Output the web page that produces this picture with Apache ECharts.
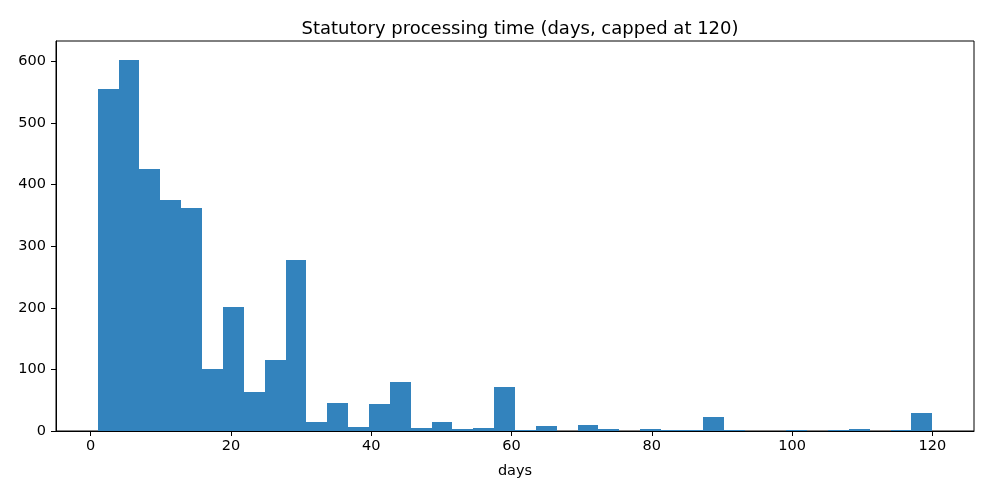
<!DOCTYPE html>
<html><head><meta charset="utf-8">
<script src="https://cdn.jsdelivr.net/npm/echarts@6/dist/echarts.min.js"></script>
<style>html,body{margin:0;padding:0;background:#fff}#c{width:990px;height:495px}</style>
</head><body><div id="c"></div>
<script>
const titleText = 'Statutory processing time (days, capped at 120)';
const xLabel = 'days';
const binStart = 1;
const binEnd = 120;
const counts = [556, 603, 426, 375, 362, 100, 202, 63, 115, 278,
                14, 45, 6, 44, 80, 5, 14, 3, 5, 71,
                2, 8, 0, 10, 3, 0, 3, 1, 1, 23,
                1, 0, 0, 1, 0, 1, 3, 0, 1, 30];
const xTicks = [0, 20, 40, 60, 80, 100, 120];
const yTicks = [0, 100, 200, 300, 400, 500, 600];

const nBins = counts.length;
const w = (binEnd - binStart) / nBins;
const data = counts.map((c, i) => [binStart + i * w, binStart + (i + 1) * w, c]);
const xPad = (binEnd - binStart) * 0.05;
const yMax = Math.max(...counts) * 1.05;

const chart = echarts.init(document.getElementById('c'), null, {renderer: 'canvas'});
const font = 'DejaVu Sans';
chart.setOption({
  animation: false,
  backgroundColor: '#fff',
  title: {text: titleText, left: 515, top: 15, textAlign: 'center',
    textStyle: {fontFamily: font, fontSize: 18, fontWeight: 'normal', color: '#000'}},
  grid: {left: 56, right: 16, top: 41, bottom: 64, show: true, borderColor: '#000', borderWidth: 1, backgroundColor: 'transparent'},
  xAxis: {type: 'value', min: binStart - xPad, max: binEnd + xPad,
    name: xLabel, nameLocation: 'middle', nameGap: 33,
    nameTextStyle: {fontFamily: font, fontSize: 14.5, color: '#000'},
    axisLine: {show: true, onZero: false, lineStyle: {color: '#000', width: 1}},
    axisTick: {show: true, length: 5, inside: false, customValues: xTicks, lineStyle: {color: '#000'}},
    axisLabel: {customValues: xTicks, fontFamily: font, fontSize: 14.5, color: '#000', margin: 8},
    splitLine: {show: false}},
  yAxis: {type: 'value', min: 0, max: yMax,
    axisLine: {show: true, onZero: false, lineStyle: {color: '#000', width: 1}},
    axisTick: {show: true, length: 5, inside: false, customValues: yTicks, lineStyle: {color: '#000'}},
    axisLabel: {customValues: yTicks, fontFamily: font, fontSize: 14.5, color: '#000', margin: 10},
    splitLine: {show: false}},
  series: [{
    type: 'custom',
    data: data,
    encode: {x: [0, 1], y: 2},
    renderItem: function (params, api) {
      if (api.value(2) <= 0) return null;
      const p0 = api.coord([api.value(0), 0]);
      const p1 = api.coord([api.value(1), api.value(2)]);
      const x0 = Math.round(p0[0]), x1 = Math.round(p1[0]);
      const yb = Math.round(p0[1]);
      let yt = Math.round(p1[1]);
      if (yt >= yb) yt = yb - 1;
      return {type: 'rect', shape: {x: x0, y: yt, width: x1 - x0, height: yb - yt},
        style: {fill: '#3383bd'}};
    }
  }]
});
</script></body></html>
